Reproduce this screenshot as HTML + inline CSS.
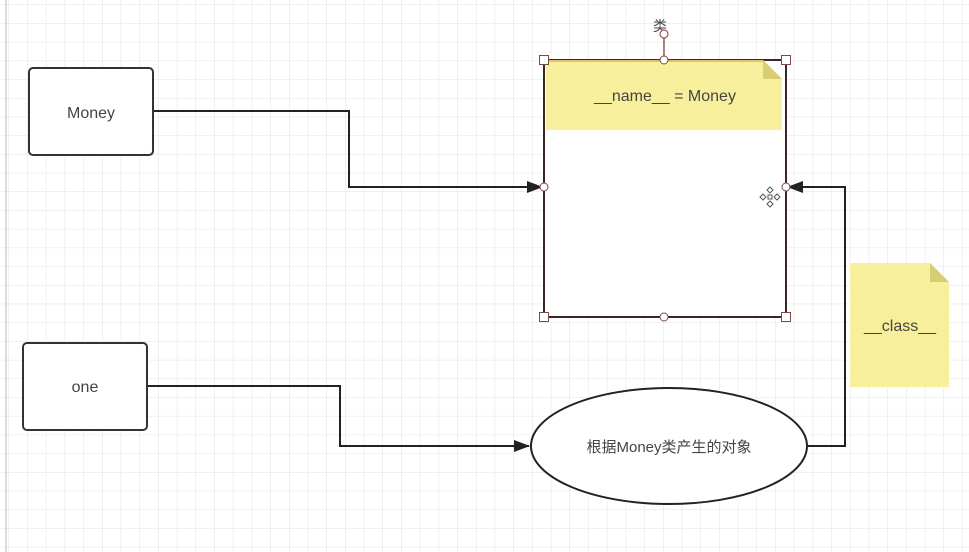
<!DOCTYPE html>
<html><head><meta charset="utf-8">
<style>
html,body{margin:0;padding:0;background:#fff;}
body{width:969px;height:552px;overflow:hidden;}
svg{display:block;}
text{font-family:"Liberation Sans","Noto Sans CJK SC",sans-serif;fill:#444;}
</style></head>
<body>
<svg width="969" height="552" viewBox="0 0 969 552" xmlns="http://www.w3.org/2000/svg">
<defs>
<pattern id="g" width="18.7" height="18.7" patternUnits="userSpaceOnUse" x="9" y="5">
<path d="M18.7 0V18.7M0 18.7H18.7" stroke="#e2e2e2" stroke-width="1" fill="none"/>
</pattern>
<marker id="ar" markerWidth="16" markerHeight="12" refX="15" refY="6" orient="auto" markerUnits="userSpaceOnUse">
<path d="M0 0L16 6L0 12Z" fill="#222"/>
</marker>
</defs>
<rect width="969" height="552" fill="url(#g)"/>
<line x1="6" y1="0" x2="6" y2="552" stroke="#d0d0d0" stroke-width="1.5"/>

<polyline points="154,111 349,111 349,187 542,187" fill="none" stroke="#222" stroke-width="2" marker-end="url(#ar)"/>
<polyline points="148,386 340,386 340,446 529,446" fill="none" stroke="#222" stroke-width="2" marker-end="url(#ar)"/>
<polyline points="807,446 845,446 845,187 788,187" fill="none" stroke="#222" stroke-width="2" marker-end="url(#ar)"/>

<rect x="29" y="68" width="124" height="87" rx="4" fill="#fff" stroke="#333" stroke-width="2"/>
<text x="91" y="118" font-size="16" text-anchor="middle">Money</text>
<rect x="23" y="343" width="124" height="87" rx="4" fill="#fff" stroke="#333" stroke-width="2"/>
<text x="85" y="392" font-size="16" text-anchor="middle">one</text>

<rect x="544" y="60" width="242" height="257" fill="#fff" stroke="#3a2626" stroke-width="2"/>
<path d="M546 60H763L782 79V130H546Z" fill="#f8ef9c"/>
<path d="M763 60L782 79H763Z" fill="#d8cd72"/>
<line x1="546" y1="61" x2="763" y2="61" stroke="#e0b060" stroke-width="1.5"/>
<text x="665" y="101" font-size="16" text-anchor="middle">__name__ = Money</text>
<line x1="664" y1="34" x2="664" y2="60" stroke="#9a5a5a" stroke-width="1.5"/>
<text x="660" y="31" font-size="14" text-anchor="middle" fill="#666">类</text>
<circle cx="664" cy="34" r="4" fill="#fff" stroke="#9a5a5a" stroke-width="1.2"/>
<g fill="#fff" stroke="#7a4a4a" stroke-width="1">
<rect x="539.5" y="55.5" width="9" height="9"/><rect x="781.5" y="55.5" width="9" height="9"/>
<rect x="539.5" y="312.5" width="9" height="9"/><rect x="781.5" y="312.5" width="9" height="9"/>
<circle cx="664" cy="60" r="4"/><circle cx="664" cy="317" r="4"/>
<circle cx="544" cy="187" r="4"/><circle cx="786" cy="187" r="4"/>
</g>
<g fill="#fff" stroke="#555" stroke-width="1">
<path d="M770 187l3 3-3 3-3-3z"/><path d="M770 201l3 3-3 3-3-3z"/>
<path d="M763 194l3 3-3 3-3-3z"/><path d="M777 194l3 3-3 3-3-3z"/>
<rect x="768" y="195" width="4" height="4"/>
</g>

<ellipse cx="669" cy="446" rx="138" ry="58" fill="#fff" stroke="#222" stroke-width="2"/>
<text x="669" y="452" font-size="15" text-anchor="middle">根据Money类产生的对象</text>

<path d="M850 263H930L949 282V387H850Z" fill="#f8ef9c"/>
<path d="M930 263L949 282H930Z" fill="#d8cd72"/>
<text x="900" y="331" font-size="16" text-anchor="middle">__class__</text>
</svg>
</body></html>
